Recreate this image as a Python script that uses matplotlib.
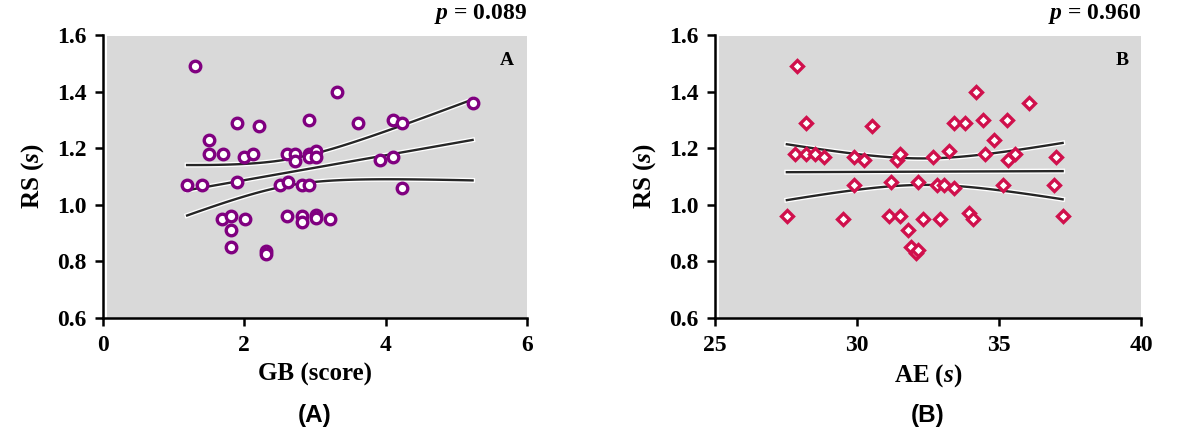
import numpy as np
import matplotlib
matplotlib.use('Agg')
import matplotlib.pyplot as plt
import matplotlib.patheffects as pe
from matplotlib.patches import Rectangle

# Panel A: GB score vs RS
gb_x = [1.30, 3.31, 5.23, 1.90, 2.21, 2.91, 3.61, 4.11, 4.23, 1.50,
        1.50, 1.70, 2.00, 2.12, 2.61, 2.72, 2.72, 2.91, 2.91, 3.01,
        3.01, 3.92, 4.11, 1.19, 1.40, 1.90, 2.50, 2.62, 2.81, 2.91,
        4.23, 1.69, 1.81, 2.01, 1.81, 1.81, 2.31, 2.31, 2.61, 2.81,
        2.81, 3.01, 3.01, 3.21]
gb_rs = [1.49, 1.40, 1.36, 1.29, 1.28, 1.30, 1.29, 1.30, 1.29, 1.23,
         1.18, 1.18, 1.17, 1.18, 1.18, 1.18, 1.155, 1.18, 1.17, 1.19,
         1.17, 1.16, 1.17, 1.07, 1.07, 1.08, 1.07, 1.08, 1.07, 1.07,
         1.06, 0.95, 0.96, 0.95, 0.91, 0.85, 0.835, 0.827, 0.96, 0.96,
         0.94, 0.965, 0.953, 0.95]

# Panel B: AE vs RS
ae_x = [27.90, 27.53, 28.21, 27.83, 28.21, 28.52, 28.85, 29.52, 29.91, 30.23,
        29.91, 30.52, 31.20, 31.14, 31.40, 31.52, 31.52, 31.81, 31.89, 32.08,
        32.16, 32.14, 32.34, 32.66, 32.81, 33.05, 32.93, 33.25, 33.40, 33.42,
        33.81, 33.93, 34.08, 34.20, 34.43, 34.51, 34.81, 35.14, 35.28, 35.31,
        35.57, 36.04, 37.02, 36.92, 37.24]
ae_rs = [1.49, 0.96, 1.29, 1.18, 1.18, 1.18, 1.17, 0.95, 1.17, 1.16,
         1.07, 1.28, 1.08, 0.96, 1.16, 1.18, 0.96, 0.91, 0.85, 0.83,
         0.84, 1.08, 0.95, 1.17, 1.07, 1.07, 0.95, 1.19, 1.29, 1.06,
         1.29, 0.97, 0.95, 1.40, 1.30, 1.18, 1.23, 1.07, 1.30, 1.16,
         1.18, 1.36, 1.17, 1.07, 0.96]

p_values = ['0.089', '0.960']
panel_letters = ['A', 'B']
x_labels = ['GB (score)', r'AE ($\mathbfit{s}$)']
x_ticks = [[0, 2, 4, 6], [25, 30, 35, 40]]
y_ticks = [0.6, 0.8, 1.0, 1.2, 1.4, 1.6]


def fit_band(x, y, n_pts=60):
    # least squares line with 95% band of the mean
    x = np.asarray(x)
    y = np.asarray(y)
    n = len(x)
    b, a = np.polyfit(x, y, 1)
    xs = np.linspace(x.min(), x.max(), n_pts)
    yhat = a + b * xs
    resid = y - (a + b * x)
    s = np.sqrt(np.sum(resid ** 2) / (n - 2))
    sxx = np.sum((x - x.mean()) ** 2)
    se = s * np.sqrt(1.0 / n + (xs - x.mean()) ** 2 / sxx)
    t = 2.017
    return xs, yhat, yhat - t * se, yhat + t * se


plt.rcParams['font.family'] = 'Liberation Serif'
plt.rcParams['font.weight'] = 'bold'
plt.rcParams['mathtext.fontset'] = 'custom'
plt.rcParams['mathtext.it'] = 'Liberation Serif:italic:bold'
plt.rcParams['mathtext.bfit'] = 'Liberation Serif:italic:bold'
plt.rcParams['mathtext.rm'] = 'Liberation Serif:bold'

fig = plt.figure(figsize=(11.81, 4.46), dpi=100)
axA = fig.add_axes([103 / 1181, 128 / 446, 424 / 1181, 283 / 446])
axB = fig.add_axes([715 / 1181, 128 / 446, 426 / 1181, 283 / 446])

panels = [
    (axA, gb_x, gb_rs, 'o', '#800080', 7.6, (0, 6)),
    (axB, ae_x, ae_rs, 'D', '#d0104c', 6.4, (25, 40)),
]

halo = [pe.Stroke(linewidth=3.6, foreground='white'), pe.Normal()]

for i, (ax, xv, yv, mk, col, ms, xlim) in enumerate(panels):
    ax.set_facecolor('white')
    ax.add_patch(Rectangle((0.009, 0.0), 0.991, 0.995, transform=ax.transAxes,
                           color='#d9d9d9', zorder=0, lw=0))
    xs, yhat, lo, hi = fit_band(xv, yv)
    for line in (yhat, lo, hi):
        ax.plot(xs, line, color='#262626', lw=1.7, path_effects=halo, zorder=2)
    ax.plot(xv, yv, linestyle='none', marker=mk, ms=ms, mfc='white', mec=col,
            mew=2.4, zorder=3)

    ax.set_xlim(*xlim)
    ax.set_ylim(0.6, 1.6)
    ax.set_xticks(x_ticks[i])
    ax.set_yticks(y_ticks)
    ax.set_yticklabels(['%.1f' % v for v in y_ticks])
    for side in ('top', 'right'):
        ax.spines[side].set_visible(False)
    for side in ('left', 'bottom'):
        ax.spines[side].set_linewidth(1.8)
    ax.tick_params(direction='out', length=6, width=1.8, labelsize=17)
    ax.tick_params(axis='y', pad=6)
    ax.tick_params(axis='x', pad=6)
    for lab in ax.get_xticklabels() + ax.get_yticklabels():
        lab.set_fontweight('bold')

    ax.set_xlabel(x_labels[i], fontsize=18, fontweight='bold', labelpad=5)
    ax.set_ylabel(r'RS ($\mathbfit{s}$)', fontsize=18, fontweight='bold', labelpad=8)
    ax.text(0.97, 0.91, panel_letters[i], transform=ax.transAxes, ha='right',
            va='center', fontsize=14, fontweight='bold')
    ax.text(1.0, 1.075, r'$\mathbfit{p}$ = ' + p_values[i], transform=ax.transAxes,
            ha='right', va='center', fontsize=17, fontweight='bold')
    ax.text(0.5, -0.345, '(%s)' % panel_letters[i], transform=ax.transAxes,
            ha='center', va='center', fontsize=17.5, fontweight='bold',
            family='Liberation Sans')

fig.savefig('out.png', dpi=100)
